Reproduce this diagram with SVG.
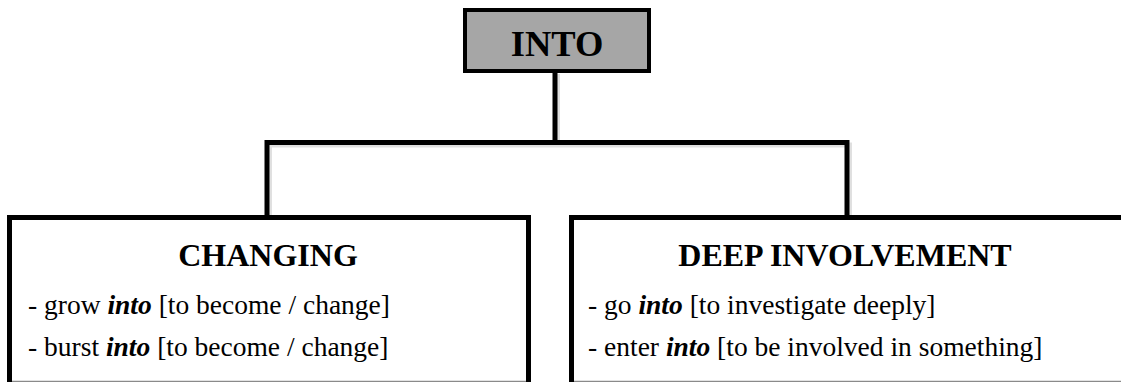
<svg xmlns="http://www.w3.org/2000/svg" width="1121" height="382" viewBox="0 0 1121 382">
  <defs>
    <style>
      .box{fill:#fff;stroke:#000;stroke-width:5;stroke-linejoin:miter}
      .bottom{stroke:#8a8a8a;stroke-width:1.2;fill:none}
      .conn{fill:none;stroke:#000;stroke-width:5;stroke-linejoin:miter}
      .shadow{fill:none;stroke:#000;stroke-opacity:0.12;stroke-width:5;stroke-linejoin:miter}
    </style>
  </defs>
  <rect width="1121" height="382" fill="#fff"/>
  <g id="connectors">
    <line class="shadow" x1="557.5" y1="74" x2="557.5" y2="145"/>
    <path class="shadow" d="M269.5,217 V145 H849.5 V217"/>
    <line class="conn" x1="555" y1="72" x2="555" y2="142.5"/>
    <path class="conn" d="M267,217.5 V142.5 H847 V217.5"/>
  </g>
  <g id="node-into">
    <rect x="465" y="10" width="184" height="61" fill="#a6a6a6" stroke="#000" stroke-width="4"/>
    <text x="557" y="56" font-family="'Liberation Serif', serif" font-weight="bold" font-size="36.5" text-anchor="middle">INTO</text>
  </g>
  <g id="node-changing" font-family="'Liberation Serif', serif" font-size="27.5">
    <path class="box" d="M9.5,384 V217.5 H528.5 V384"/>
    <line class="bottom" x1="12" y1="381.4" x2="526" y2="381.4"/>
    <text x="268" y="266" font-weight="bold" font-size="32" text-anchor="middle">CHANGING</text>
    <text x="28" y="314">- grow <tspan font-weight="bold" font-style="italic">into</tspan> [to become / change]</text>
    <text x="28" y="356">- burst <tspan font-weight="bold" font-style="italic">into</tspan> [to become / change]</text>
  </g>
  <g id="node-deep" font-family="'Liberation Serif', serif" font-size="27.5">
    <path class="box" d="M571.5,384 V217.5 H1126"/>
    <line class="bottom" x1="574" y1="381.4" x2="1121" y2="381.4"/>
    <text x="845" y="266" font-weight="bold" font-size="32" text-anchor="middle">DEEP INVOLVEMENT</text>
    <text x="588" y="314">- go <tspan font-weight="bold" font-style="italic">into</tspan> [to investigate deeply]</text>
    <text x="588" y="356">- enter <tspan font-weight="bold" font-style="italic">into</tspan> [to be involved in something]</text>
  </g>
</svg>
